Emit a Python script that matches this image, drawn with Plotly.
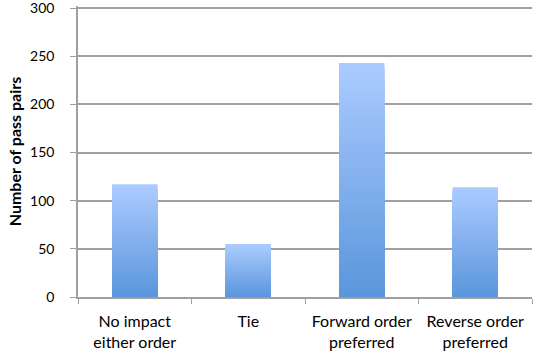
import plotly.graph_objects as go

categories = ["No impact<br>either order", "Tie", "Forward order<br>preferred", "Reverse order<br>preferred"]
counts = [117, 55, 243, 114]
y_ticks = [0, 50, 100, 150, 200, 250, 300]

TOP_RGB = (171, 203, 255)
BOTTOM_RGB = (91, 150, 220)
STEPS = 60

fig = go.Figure()

# Vertical gradient: overlay progressively shorter bars, each a little darker,
# so every bar fades from light at its top to deeper blue at its base.
for i in range(STEPS):
    frac = 1 - i / STEPS
    t = i / (STEPS - 1)
    r = round(TOP_RGB[0] + (BOTTOM_RGB[0] - TOP_RGB[0]) * t)
    g = round(TOP_RGB[1] + (BOTTOM_RGB[1] - TOP_RGB[1]) * t)
    b = round(TOP_RGB[2] + (BOTTOM_RGB[2] - TOP_RGB[2]) * t)
    fig.add_trace(go.Bar(
        x=categories,
        y=[v * frac for v in counts],
        marker=dict(color=f"rgb({r},{g},{b})", line=dict(width=0)),
        width=0.4,
        hoverinfo="skip" if i else "x+y",
        showlegend=False,
    ))

label_font = "Lato, Open Sans, sans-serif"

fig.update_layout(
    barmode="overlay",
    width=537,
    height=358,
    margin=dict(l=78, r=5, t=6, b=61),
    paper_bgcolor="white",
    plot_bgcolor="white",
    font=dict(family=label_font, size=16, color="black"),
    xaxis=dict(
        type="category",
        automargin=False,
        showgrid=False,
        showline=True,
        linecolor="#a0a0a0",
        linewidth=1.5,
        ticks="outside",
        tickson="boundaries",
        ticklen=5,
        tickcolor="#a0a0a0",
        tickwidth=1,
        ticklabelstandoff=9,
        tickfont=dict(family=label_font, size=16, color="black"),
    ),
    yaxis=dict(
        range=[0, 302.1],
        automargin=False,
        tickvals=y_ticks,
        showgrid=True,
        gridcolor="#a0a0a0",
        gridwidth=1.5,
        showline=True,
        linecolor="#a0a0a0",
        linewidth=1.5,
        ticks="outside",
        ticklen=6,
        tickcolor="#a0a0a0",
        ticklabelstandoff=13,
        ticklabeloverflow="allow",
        tickfont=dict(family=label_font, size=14, color="black"),
        zeroline=False,
        title=dict(text="<b>Number of pass pairs</b>",
                   font=dict(family=label_font, size=16, color="black"),
                   standoff=4),
    ),
)

fig.write_html("out.html")
